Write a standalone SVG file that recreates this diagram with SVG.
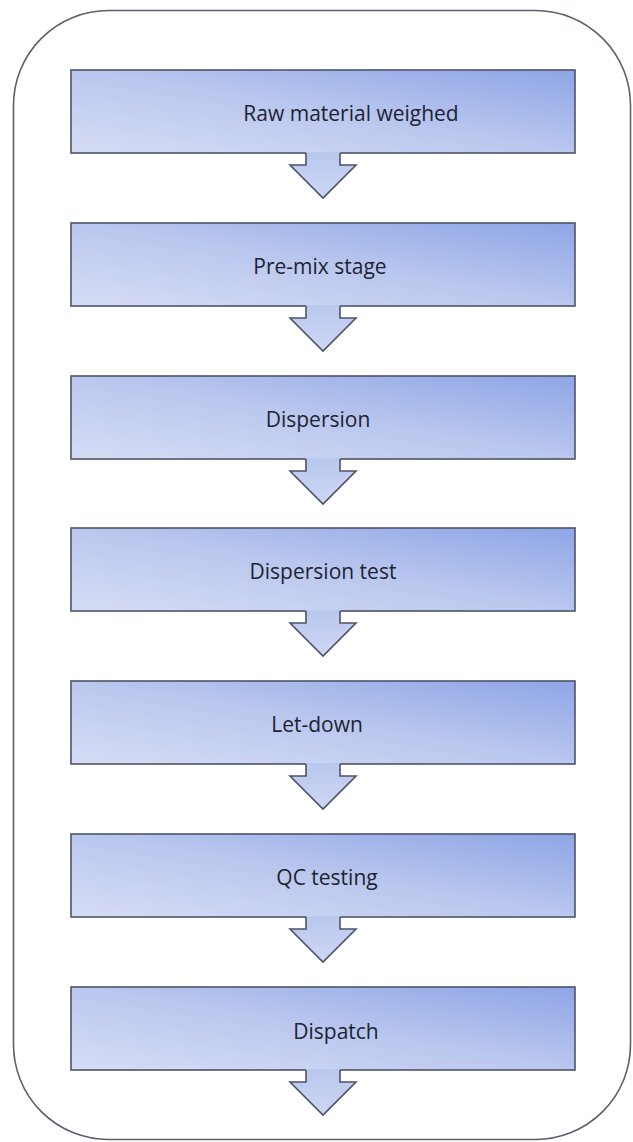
<svg xmlns="http://www.w3.org/2000/svg" width="633" height="1142" viewBox="0 0 633 1142">
<defs>
<linearGradient id="boxg" x1="0" y1="1" x2="1" y2="0">
<stop offset="0" stop-color="#d6ddf5"/>
<stop offset="0.5" stop-color="#bac7ee"/>
<stop offset="1" stop-color="#8ea5e6"/>
</linearGradient>
<linearGradient id="arrg" x1="0" y1="0" x2="0" y2="1">
<stop offset="0" stop-color="#bac7ee"/>
<stop offset="1" stop-color="#cdd6f3"/>
</linearGradient>
</defs>
<style>
.frame{fill:#ffffff;stroke:#5b6070;stroke-width:1.6}
.box{fill:url(#boxg);stroke:#4d5469;stroke-width:1.6}
.arrfill{fill:url(#arrg);stroke:none}
.arrline{fill:none;stroke:#4d5469;stroke-width:1.6;stroke-linejoin:miter}
.lbl{font-family:"Open Sans","Noto Sans",sans-serif;font-size:21px;fill:#1e2333;text-anchor:middle}
</style>
<rect width="633" height="1142" fill="#ffffff"/>
<g id="frame"><rect class="frame" x="13.5" y="10.5" width="617" height="1129" rx="95" ry="95"/></g>
<g id="n1"><rect class="box" x="71" y="70" width="504" height="83"/><text class="lbl" x="351" y="121">Raw material weighed</text></g>
<g id="n2"><rect class="box" x="71" y="223" width="504" height="83"/><text class="lbl" x="320" y="274">Pre-mix stage</text></g>
<g id="n3"><rect class="box" x="71" y="376" width="504" height="83"/><text class="lbl" x="318" y="427">Dispersion</text></g>
<g id="n4"><rect class="box" x="71" y="528" width="504" height="83"/><text class="lbl" x="323" y="579">Dispersion test</text></g>
<g id="n5"><rect class="box" x="71" y="681" width="504" height="83"/><text class="lbl" x="317" y="732">Let-down</text></g>
<g id="n6"><rect class="box" x="71" y="834" width="504" height="83"/><text class="lbl" x="327" y="885">QC testing</text></g>
<g id="n7"><rect class="box" x="71" y="987" width="504" height="83"/><text class="lbl" x="336" y="1039">Dispatch</text></g>
<g id="connectors">
<g transform="translate(0,153)"><polygon class="arrfill" points="306,-1 340,-1 340,12 356,12 323,45 290,12 306,12"/><polyline class="arrline" points="306,0 306,12 290,12 323,45 356,12 340,12 340,0"/></g>
<g transform="translate(0,306)"><polygon class="arrfill" points="306,-1 340,-1 340,12 356,12 323,45 290,12 306,12"/><polyline class="arrline" points="306,0 306,12 290,12 323,45 356,12 340,12 340,0"/></g>
<g transform="translate(0,459)"><polygon class="arrfill" points="306,-1 340,-1 340,12 356,12 323,45 290,12 306,12"/><polyline class="arrline" points="306,0 306,12 290,12 323,45 356,12 340,12 340,0"/></g>
<g transform="translate(0,611)"><polygon class="arrfill" points="306,-1 340,-1 340,12 356,12 323,45 290,12 306,12"/><polyline class="arrline" points="306,0 306,12 290,12 323,45 356,12 340,12 340,0"/></g>
<g transform="translate(0,764)"><polygon class="arrfill" points="306,-1 340,-1 340,12 356,12 323,45 290,12 306,12"/><polyline class="arrline" points="306,0 306,12 290,12 323,45 356,12 340,12 340,0"/></g>
<g transform="translate(0,917)"><polygon class="arrfill" points="306,-1 340,-1 340,12 356,12 323,45 290,12 306,12"/><polyline class="arrline" points="306,0 306,12 290,12 323,45 356,12 340,12 340,0"/></g>
<g transform="translate(0,1070)"><polygon class="arrfill" points="306,-1 340,-1 340,12 356,12 323,45 290,12 306,12"/><polyline class="arrline" points="306,0 306,12 290,12 323,45 356,12 340,12 340,0"/></g>
</g>
</svg>
